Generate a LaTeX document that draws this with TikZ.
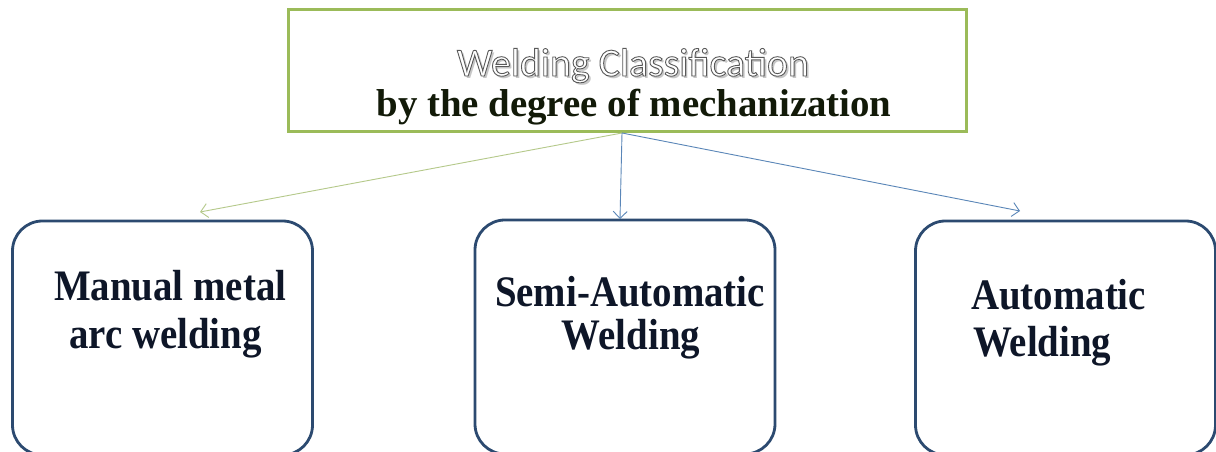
\documentclass[tikz,border=0pt]{standalone}
\usepackage{fontspec}
\setmainfont{Liberation Serif}
\newfontfamily\calfont{Carlito}
\usetikzlibrary{arrows.meta}
\definecolor{topgreen}{HTML}{9BBB59}
\definecolor{boxblue}{HTML}{2C4A70}
\definecolor{arrgreen}{HTML}{B5C98A}
\definecolor{arrblue}{HTML}{5A86B8}
\definecolor{navytext}{HTML}{0E1628}
\definecolor{greentext}{HTML}{121A08}
\newcommand\tall[1]{\scalebox{1}[1.12]{#1}}
\newcommand\outlinetext[1]{\special{pdf:literal direct 0.35 G 2 Tr 0.9 w}#1\special{pdf:literal direct 0 Tr}}
\newcommand\shadowed[1]{\rlap{\hspace{2.5bp}\raisebox{-2.5bp}{\color{black!22}#1}}\outlinetext{#1}}
\tikzset{
  topbox/.style={draw=topgreen, line width=3bp, fill=white, minimum width=677bp, minimum height=122bp, inner sep=0pt},
  catbox/.style={draw=boxblue, line width=2.8bp, rounded corners=30bp, fill=white, minimum width=300bp, minimum height=234bp, inner sep=0pt},
  boldtxt/.style={font=\fontsize{39}{44}\selectfont\bfseries, text=navytext, anchor=base west, inner sep=0pt},
  arr/.style={line width=0.9bp, -{Straight Barb[length=7bp,width=14bp]}},
  outl/.style={font=\calfont\fontsize{40}{44}\selectfont, anchor=base, inner sep=0pt}
}
\begin{document}
\begin{tikzpicture}[x=1bp,y=-1bp]
\useasboundingbox (0,0) rectangle (1216,452);
\clip (0,0) rectangle (1216,452);
\fill[white] (0,0) rectangle (1216,452);
% top box
\node[topbox] (top) at (627.5,71) {};
% outlined title with shadow
\node[outl, text=white] (title) at (633,76) {\shadowed{Welding Classification}};
\node[font=\fontsize{39}{44}\selectfont\bfseries, text=greentext, anchor=base, inner sep=0pt] (sub) at (634,117) {by the degree of mechanization};
% bottom boxes
\node[catbox] (b1) at (162.5,338) {};
\node[catbox] (b2) at (625,337) {};
\node[catbox] (b3) at (1065.5,338) {};
% texts
\node[boldtxt] (t1a) at (54,301) {\tall{Manual metal}};
\node[boldtxt] (t1b) at (69,349) {\tall{arc welding}};
\node[boldtxt, anchor=base] (t2a) at (630,307) {\tall{Semi-Automatic}};
\node[boldtxt, anchor=base] (t2b) at (631,350) {\tall{Welding}};
\node[boldtxt] (t3a) at (971,310) {\tall{Automatic}};
\node[boldtxt] (t3b) at (973,357) {\tall{Welding}};
% connectors
\coordinate (src) at (622,133);
\coordinate (e1) at (200,212);
\coordinate (e2) at (620,219);
\coordinate (e3) at (1020,211);
\draw[arr, draw=arrgreen] (src) -- (e1);
\draw[arr, draw=arrblue] (src) -- (e2);
\draw[arr, draw=arrblue] (src) -- (e3);
\end{tikzpicture}
\end{document}
